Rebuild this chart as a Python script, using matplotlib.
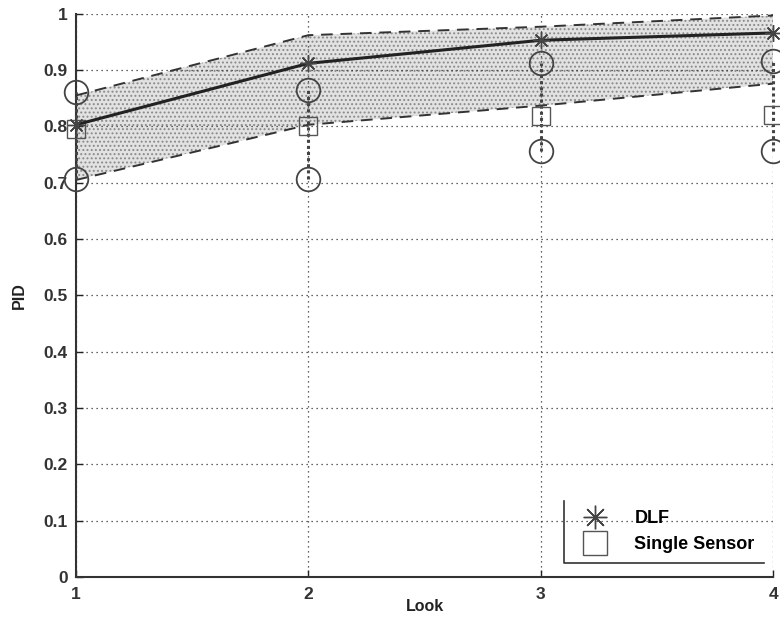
import matplotlib
matplotlib.use("Agg")
import matplotlib.pyplot as plt
from matplotlib.lines import Line2D

looks = [1, 2, 3, 4]
dlf_mean = [0.803, 0.912, 0.953, 0.966]
dlf_upper = [0.855, 0.962, 0.977, 0.997]
dlf_lower = [0.705, 0.803, 0.837, 0.876]
single_mean = [0.795, 0.800, 0.818, 0.820]
single_high = [0.862, 0.864, 0.913, 0.917]
single_low = [0.707, 0.707, 0.757, 0.757]
yticks = [0, 0.1, 0.2, 0.3, 0.4, 0.5, 0.6, 0.7, 0.8, 0.9, 1]
ytick_labels = ["0", "0.1", "0.2", "0.3", "0.4", "0.5", "0.6", "0.7", "0.8", "0.9", "1"]

plt.rcParams["font.family"] = ["Liberation Sans", "DejaVu Sans"]
plt.rcParams["hatch.color"] = "#8a8a8a"
plt.rcParams["hatch.linewidth"] = 0.9

fig = plt.figure(figsize=(7.8, 6.26), dpi=100)
ax = fig.add_axes([0.0974, 0.078, 0.894, 0.9])

asterisk = (8, 2, 0)

# confidence band of the fused detector
ax.fill_between(looks, dlf_lower, dlf_upper, facecolor="#e2e2e2",
                edgecolor="none", hatch="....", zorder=1)
ax.plot(looks, dlf_upper, color="#333333", lw=1.4, ls=(0, (6, 4)), zorder=3)
ax.plot(looks, dlf_lower, color="#333333", lw=1.4, ls=(0, (6, 4)), zorder=3)

# single-sensor spread
for x, lo, hi in zip(looks, single_low, single_high):
    ax.plot([x, x], [lo, hi], color="#444444", lw=2.2, ls=(0, (1, 1)),
            zorder=3, clip_on=False)
ax.plot(looks, single_high, ls="none", marker="o", ms=17, mfc="none",
        mec="#444444", mew=1.3, zorder=4, clip_on=False)
ax.plot(looks, single_low, ls="none", marker="o", ms=17, mfc="none",
        mec="#444444", mew=1.3, zorder=4, clip_on=False)
ax.plot(looks, single_mean, ls="none", marker="s", ms=13, mfc="none",
        mec="#555555", mew=1.0, zorder=4, clip_on=False)

# fused detector mean
ax.plot(looks, dlf_mean, color="#222222", lw=2.2, zorder=5)
ax.plot(looks, dlf_mean, ls="none", marker=asterisk, ms=12, mec="#444444",
        mew=1.0, zorder=5, clip_on=False)

ax.set_xlim(1, 4)
ax.set_ylim(0, 1)
ax.set_xticks(looks)
ax.set_xticklabels([str(v) for v in looks])
ax.set_yticks(yticks)
ax.set_yticklabels(ytick_labels)
ax.tick_params(direction="in", length=5, width=1, labelsize=12.5,
               colors="#222222")
ax.tick_params(axis="x", pad=7)
ax.tick_params(axis="y", pad=6)
for lab in ax.get_xticklabels() + ax.get_yticklabels():
    lab.set_fontweight("bold")
    lab.set_color("#333333")
ax.grid(True, color="#333333", ls=(0, (1, 3)), lw=0.9)
for s in ("top", "right"):
    ax.spines[s].set_visible(False)
for s in ("left", "bottom"):
    ax.spines[s].set_linewidth(1.5)
    ax.spines[s].set_color("#333333")

ax.set_xlabel("Look", fontsize=11.5, fontweight="bold", color="#222222",
              labelpad=-2)
ax.set_ylabel("PID", fontsize=11.5, fontweight="bold", color="#222222",
              labelpad=12)

handles = [
    Line2D([], [], ls="none", marker=asterisk, ms=17, mec="#444444", mew=1.0),
    Line2D([], [], ls="none", marker="s", ms=17, mfc="none", mec="#555555",
           mew=1.0),
]
leg = ax.legend(handles, ["DLF", "Single Sensor"], loc="lower right",
                bbox_to_anchor=(0.999, 0.01), frameon=False,
                prop={"weight": "bold", "size": 13}, handletextpad=1.0,
                borderpad=0.5, labelspacing=0.5, handlelength=2.4)
fig.canvas.draw()
bb = leg.get_window_extent().transformed(ax.transAxes.inverted())
ax.plot([bb.x0, bb.x0, bb.x1], [bb.y1, bb.y0, bb.y0], color="#333333",
        lw=1.2, transform=ax.transAxes, clip_on=False, zorder=6)

fig.savefig("out.png", dpi=100)
